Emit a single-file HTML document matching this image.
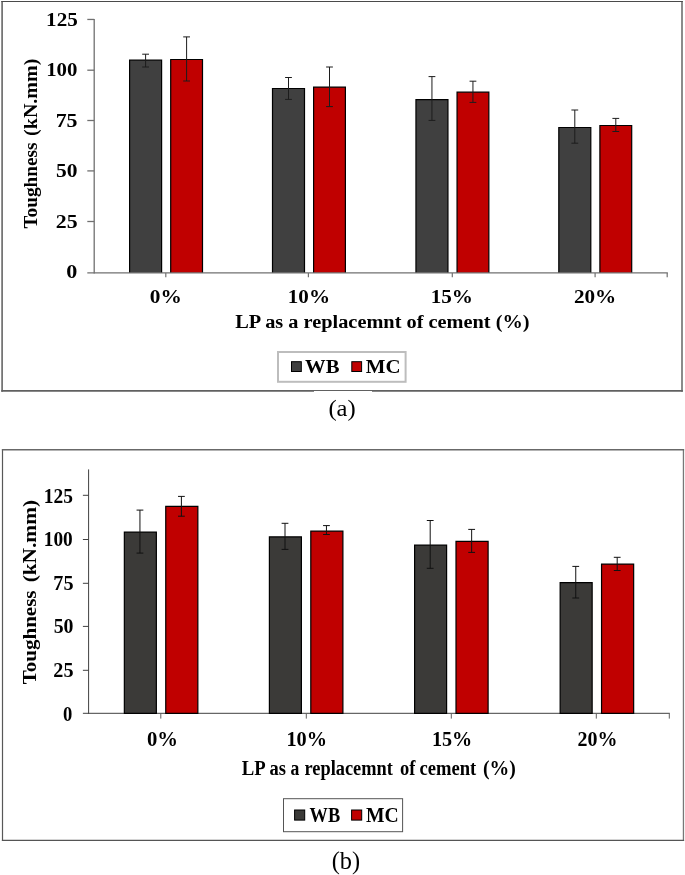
<!DOCTYPE html>
<html><head><meta charset="utf-8"><title>Toughness charts</title>
<style>
html,body{margin:0;padding:0;background:#fff;}
svg{display:block;will-change:transform;font-family:"Liberation Serif",serif;}
</style></head>
<body>
<svg width="685" height="875" viewBox="0 0 685 875">
<rect x="0" y="0" width="685" height="875" fill="#fff"/>
<line x1="2.10" y1="0.90" x2="2.10" y2="391.65" stroke="#666" stroke-width="1.6"/>
<line x1="682.00" y1="0.90" x2="682.00" y2="391.65" stroke="#777" stroke-width="1.7"/>
<line x1="1.30" y1="1.50" x2="682.85" y2="1.50" stroke="#4a4a4a" stroke-width="1.2"/>
<line x1="1.30" y1="390.80" x2="682.85" y2="390.80" stroke="#606060" stroke-width="1.7"/>
<rect x="129.60" y="60.20" width="32.00" height="212.70" fill="#404040"/>
<path d="M129.60,272.90 V60.20 H161.60 V272.90" fill="none" stroke="#000" stroke-width="1.2"/>
<line x1="145.60" y1="54.20" x2="145.60" y2="67.00" stroke="#1c1c1c" stroke-width="1.0"/>
<line x1="142.20" y1="54.20" x2="149.00" y2="54.20" stroke="#1c1c1c" stroke-width="1.0"/>
<line x1="142.20" y1="67.00" x2="149.00" y2="67.00" stroke="#1c1c1c" stroke-width="1.0"/>
<rect x="170.70" y="59.50" width="31.80" height="213.40" fill="#c00000"/>
<path d="M170.70,272.90 V59.50 H202.50 V272.90" fill="none" stroke="#000" stroke-width="1.2"/>
<line x1="186.60" y1="36.90" x2="186.60" y2="81.00" stroke="#1c1c1c" stroke-width="1.0"/>
<line x1="183.20" y1="36.90" x2="190.00" y2="36.90" stroke="#1c1c1c" stroke-width="1.0"/>
<line x1="183.20" y1="81.00" x2="190.00" y2="81.00" stroke="#1c1c1c" stroke-width="1.0"/>
<rect x="272.50" y="88.50" width="32.00" height="184.40" fill="#404040"/>
<path d="M272.50,272.90 V88.50 H304.50 V272.90" fill="none" stroke="#000" stroke-width="1.2"/>
<line x1="288.50" y1="77.50" x2="288.50" y2="99.40" stroke="#1c1c1c" stroke-width="1.0"/>
<line x1="285.10" y1="77.50" x2="291.90" y2="77.50" stroke="#1c1c1c" stroke-width="1.0"/>
<line x1="285.10" y1="99.40" x2="291.90" y2="99.40" stroke="#1c1c1c" stroke-width="1.0"/>
<rect x="313.60" y="87.10" width="31.80" height="185.80" fill="#c00000"/>
<path d="M313.60,272.90 V87.10 H345.40 V272.90" fill="none" stroke="#000" stroke-width="1.2"/>
<line x1="329.50" y1="67.00" x2="329.50" y2="106.60" stroke="#1c1c1c" stroke-width="1.0"/>
<line x1="326.10" y1="67.00" x2="332.90" y2="67.00" stroke="#1c1c1c" stroke-width="1.0"/>
<line x1="326.10" y1="106.60" x2="332.90" y2="106.60" stroke="#1c1c1c" stroke-width="1.0"/>
<rect x="415.95" y="99.70" width="32.00" height="173.20" fill="#404040"/>
<path d="M415.95,272.90 V99.70 H447.95 V272.90" fill="none" stroke="#000" stroke-width="1.2"/>
<line x1="431.95" y1="76.60" x2="431.95" y2="120.40" stroke="#1c1c1c" stroke-width="1.0"/>
<line x1="428.55" y1="76.60" x2="435.35" y2="76.60" stroke="#1c1c1c" stroke-width="1.0"/>
<line x1="428.55" y1="120.40" x2="435.35" y2="120.40" stroke="#1c1c1c" stroke-width="1.0"/>
<rect x="457.05" y="92.20" width="31.80" height="180.70" fill="#c00000"/>
<path d="M457.05,272.90 V92.20 H488.85 V272.90" fill="none" stroke="#000" stroke-width="1.2"/>
<line x1="472.95" y1="81.20" x2="472.95" y2="102.40" stroke="#1c1c1c" stroke-width="1.0"/>
<line x1="469.55" y1="81.20" x2="476.35" y2="81.20" stroke="#1c1c1c" stroke-width="1.0"/>
<line x1="469.55" y1="102.40" x2="476.35" y2="102.40" stroke="#1c1c1c" stroke-width="1.0"/>
<rect x="558.80" y="127.50" width="32.00" height="145.40" fill="#404040"/>
<path d="M558.80,272.90 V127.50 H590.80 V272.90" fill="none" stroke="#000" stroke-width="1.2"/>
<line x1="574.80" y1="110.00" x2="574.80" y2="143.20" stroke="#1c1c1c" stroke-width="1.0"/>
<line x1="571.40" y1="110.00" x2="578.20" y2="110.00" stroke="#1c1c1c" stroke-width="1.0"/>
<line x1="571.40" y1="143.20" x2="578.20" y2="143.20" stroke="#1c1c1c" stroke-width="1.0"/>
<rect x="599.90" y="125.50" width="31.80" height="147.40" fill="#c00000"/>
<path d="M599.90,272.90 V125.50 H631.70 V272.90" fill="none" stroke="#000" stroke-width="1.2"/>
<line x1="615.80" y1="118.40" x2="615.80" y2="131.50" stroke="#1c1c1c" stroke-width="1.0"/>
<line x1="612.40" y1="118.40" x2="619.20" y2="118.40" stroke="#1c1c1c" stroke-width="1.0"/>
<line x1="612.40" y1="131.50" x2="619.20" y2="131.50" stroke="#1c1c1c" stroke-width="1.0"/>
<line x1="94.20" y1="19.00" x2="94.20" y2="273.55" stroke="#707070" stroke-width="1.3"/>
<line x1="87.30" y1="272.90" x2="667.85" y2="272.90" stroke="#707070" stroke-width="1.3"/>
<line x1="87.30" y1="221.50" x2="94.20" y2="221.50" stroke="#707070" stroke-width="1.3"/>
<line x1="87.30" y1="170.90" x2="94.20" y2="170.90" stroke="#707070" stroke-width="1.3"/>
<line x1="87.30" y1="120.50" x2="94.20" y2="120.50" stroke="#707070" stroke-width="1.3"/>
<line x1="87.30" y1="70.20" x2="94.20" y2="70.20" stroke="#707070" stroke-width="1.3"/>
<line x1="87.30" y1="19.45" x2="94.20" y2="19.45" stroke="#707070" stroke-width="1.3"/>
<line x1="165.80" y1="272.90" x2="165.80" y2="277.30" stroke="#707070" stroke-width="1.2"/>
<line x1="308.40" y1="272.90" x2="308.40" y2="277.30" stroke="#707070" stroke-width="1.2"/>
<line x1="452.30" y1="272.90" x2="452.30" y2="277.30" stroke="#707070" stroke-width="1.2"/>
<line x1="595.10" y1="272.90" x2="595.10" y2="277.30" stroke="#707070" stroke-width="1.2"/>
<line x1="667.20" y1="272.90" x2="667.20" y2="277.30" stroke="#707070" stroke-width="1.2"/>
<text transform="translate(46.11,25.85) scale(1.1313,1.0350)" text-anchor="start" font-size="18.67" font-weight="bold" fill="#000">125</text>
<text transform="translate(46.13,76.10) scale(1.1158,1.0350)" text-anchor="start" font-size="18.67" font-weight="bold" fill="#000">100</text>
<text transform="translate(55.64,126.80) scale(1.1748,1.0350)" text-anchor="start" font-size="18.67" font-weight="bold" fill="#000">75</text>
<text transform="translate(56.04,176.90) scale(1.1525,1.0350)" text-anchor="start" font-size="18.67" font-weight="bold" fill="#000">50</text>
<text transform="translate(55.77,227.50) scale(1.1673,1.0350)" text-anchor="start" font-size="18.67" font-weight="bold" fill="#000">25</text>
<text transform="translate(66.37,278.00) scale(1.1847,1.0350)" text-anchor="start" font-size="18.67" font-weight="bold" fill="#000">0</text>
<text transform="translate(149.80,303.00) scale(1.1437,1.0400)" text-anchor="start" font-size="18.67" font-weight="bold" fill="#000">0%</text>
<text transform="translate(287.81,303.00) scale(1.1299,1.0400)" text-anchor="start" font-size="18.67" font-weight="bold" fill="#000">10%</text>
<text transform="translate(430.71,303.00) scale(1.1329,1.0400)" text-anchor="start" font-size="18.67" font-weight="bold" fill="#000">15%</text>
<text transform="translate(573.90,303.00) scale(1.1331,1.0400)" text-anchor="start" font-size="18.67" font-weight="bold" fill="#000">20%</text>
<text transform="translate(235.24,327.80) scale(1.0893,1.0300)" text-anchor="start" font-size="18.67" font-weight="bold" fill="#000">LP as a replacemnt of cement (%)</text>
<text transform="translate(37.40,228.49) rotate(-90) scale(1.0331,1.0400)" text-anchor="start" font-size="18.67" font-weight="bold" fill="#000">Toughness</text>
<text transform="translate(37.40,135.90) rotate(-90) scale(1.0719,1.0400)" text-anchor="start" font-size="18.67" font-weight="bold" fill="#000">(kN.mm)</text>
<rect x="278.0" y="352.0" width="127.60" height="29.80" fill="#fff" stroke="#bdbdbd" stroke-width="2.0"/>
<rect x="291.50" y="361.70" width="9.8" height="9.8" fill="#404040" stroke="#000" stroke-width="1.0"/>
<rect x="351.80" y="361.70" width="9.8" height="9.8" fill="#c00000" stroke="#000" stroke-width="1.0"/>
<text transform="translate(305.09,372.70) scale(1.1075,1.0300)" text-anchor="start" font-size="18.67" font-weight="bold" fill="#000">WB</text>
<text transform="translate(365.83,372.70) scale(1.1172,1.0300)" text-anchor="start" font-size="18.67" font-weight="bold" fill="#000">MC</text>
<text transform="translate(328.39,416.10) scale(1.0269,0.9900)" text-anchor="start" font-size="24" font-weight="normal" fill="#000">(a)</text>
<rect x="314" y="391.0" width="58" height="2" fill="#fff"/>
<line x1="2.50" y1="449.10" x2="2.50" y2="841.02" stroke="#585858" stroke-width="1.2"/>
<line x1="683.45" y1="449.10" x2="683.45" y2="841.02" stroke="#777" stroke-width="1.3"/>
<line x1="1.90" y1="449.75" x2="684.10" y2="449.75" stroke="#686868" stroke-width="1.3"/>
<line x1="1.90" y1="840.40" x2="684.10" y2="840.40" stroke="#555" stroke-width="1.25"/>
<line x1="88.60" y1="469.40" x2="88.60" y2="713.80" stroke="#404040" stroke-width="1.0"/>
<line x1="82.90" y1="713.30" x2="669.80" y2="713.30" stroke="#404040" stroke-width="1.0"/>
<line x1="82.90" y1="670.30" x2="88.60" y2="670.30" stroke="#404040" stroke-width="1.0"/>
<line x1="82.90" y1="626.40" x2="88.60" y2="626.40" stroke="#404040" stroke-width="1.0"/>
<line x1="82.90" y1="583.30" x2="88.60" y2="583.30" stroke="#404040" stroke-width="1.0"/>
<line x1="82.90" y1="539.50" x2="88.60" y2="539.50" stroke="#404040" stroke-width="1.0"/>
<line x1="82.90" y1="495.30" x2="88.60" y2="495.30" stroke="#404040" stroke-width="1.0"/>
<line x1="160.80" y1="713.30" x2="160.80" y2="718.60" stroke="#606060" stroke-width="1.0"/>
<line x1="306.30" y1="713.30" x2="306.30" y2="718.60" stroke="#606060" stroke-width="1.0"/>
<line x1="451.30" y1="713.30" x2="451.30" y2="718.60" stroke="#606060" stroke-width="1.0"/>
<line x1="596.30" y1="713.30" x2="596.30" y2="718.60" stroke="#606060" stroke-width="1.0"/>
<line x1="669.30" y1="713.30" x2="669.30" y2="718.60" stroke="#606060" stroke-width="1.0"/>
<rect x="124.35" y="532.10" width="32.00" height="181.20" fill="#3b3a38"/>
<path d="M124.35,713.30 V532.10 H156.35 V713.30 Z" fill="none" stroke="#000" stroke-width="1.2"/>
<line x1="139.95" y1="510.10" x2="139.95" y2="553.10" stroke="#111" stroke-width="1.0"/>
<line x1="136.55" y1="510.10" x2="143.35" y2="510.10" stroke="#111" stroke-width="1.0"/>
<line x1="136.55" y1="553.10" x2="143.35" y2="553.10" stroke="#111" stroke-width="1.0"/>
<rect x="165.75" y="506.30" width="32.10" height="207.00" fill="#c00000"/>
<path d="M165.75,713.30 V506.30 H197.85 V713.30 Z" fill="none" stroke="#000" stroke-width="1.2"/>
<line x1="181.40" y1="496.40" x2="181.40" y2="516.20" stroke="#111" stroke-width="1.0"/>
<line x1="178.00" y1="496.40" x2="184.80" y2="496.40" stroke="#111" stroke-width="1.0"/>
<line x1="178.00" y1="516.20" x2="184.80" y2="516.20" stroke="#111" stroke-width="1.0"/>
<rect x="269.40" y="536.90" width="32.00" height="176.40" fill="#3b3a38"/>
<path d="M269.40,713.30 V536.90 H301.40 V713.30 Z" fill="none" stroke="#000" stroke-width="1.2"/>
<line x1="285.00" y1="523.30" x2="285.00" y2="549.40" stroke="#111" stroke-width="1.0"/>
<line x1="281.60" y1="523.30" x2="288.40" y2="523.30" stroke="#111" stroke-width="1.0"/>
<line x1="281.60" y1="549.40" x2="288.40" y2="549.40" stroke="#111" stroke-width="1.0"/>
<rect x="310.80" y="531.10" width="32.10" height="182.20" fill="#c00000"/>
<path d="M310.80,713.30 V531.10 H342.90 V713.30 Z" fill="none" stroke="#000" stroke-width="1.2"/>
<line x1="326.45" y1="525.60" x2="326.45" y2="534.50" stroke="#111" stroke-width="1.0"/>
<line x1="323.05" y1="525.60" x2="329.85" y2="525.60" stroke="#111" stroke-width="1.0"/>
<line x1="323.05" y1="534.50" x2="329.85" y2="534.50" stroke="#111" stroke-width="1.0"/>
<rect x="414.60" y="545.10" width="32.00" height="168.20" fill="#3b3a38"/>
<path d="M414.60,713.30 V545.10 H446.60 V713.30 Z" fill="none" stroke="#000" stroke-width="1.2"/>
<line x1="430.20" y1="520.50" x2="430.20" y2="568.30" stroke="#111" stroke-width="1.0"/>
<line x1="426.80" y1="520.50" x2="433.60" y2="520.50" stroke="#111" stroke-width="1.0"/>
<line x1="426.80" y1="568.30" x2="433.60" y2="568.30" stroke="#111" stroke-width="1.0"/>
<rect x="456.00" y="541.40" width="32.10" height="171.90" fill="#c00000"/>
<path d="M456.00,713.30 V541.40 H488.10 V713.30 Z" fill="none" stroke="#000" stroke-width="1.2"/>
<line x1="471.65" y1="529.40" x2="471.65" y2="552.40" stroke="#111" stroke-width="1.0"/>
<line x1="468.25" y1="529.40" x2="475.05" y2="529.40" stroke="#111" stroke-width="1.0"/>
<line x1="468.25" y1="552.40" x2="475.05" y2="552.40" stroke="#111" stroke-width="1.0"/>
<rect x="560.15" y="582.60" width="32.00" height="130.70" fill="#3b3a38"/>
<path d="M560.15,713.30 V582.60 H592.15 V713.30 Z" fill="none" stroke="#000" stroke-width="1.2"/>
<line x1="575.75" y1="566.40" x2="575.75" y2="598.00" stroke="#111" stroke-width="1.0"/>
<line x1="572.35" y1="566.40" x2="579.15" y2="566.40" stroke="#111" stroke-width="1.0"/>
<line x1="572.35" y1="598.00" x2="579.15" y2="598.00" stroke="#111" stroke-width="1.0"/>
<rect x="601.55" y="564.10" width="32.10" height="149.20" fill="#c00000"/>
<path d="M601.55,713.30 V564.10 H633.65 V713.30 Z" fill="none" stroke="#000" stroke-width="1.2"/>
<line x1="617.20" y1="557.30" x2="617.20" y2="570.50" stroke="#111" stroke-width="1.0"/>
<line x1="613.80" y1="557.30" x2="620.60" y2="557.30" stroke="#111" stroke-width="1.0"/>
<line x1="613.80" y1="570.50" x2="620.60" y2="570.50" stroke="#111" stroke-width="1.0"/>
<text transform="translate(43.74,502.70) scale(1.0422,1.1300)" text-anchor="start" font-size="18.67" font-weight="bold" fill="#000">125</text>
<text transform="translate(43.75,546.00) scale(1.0344,1.1300)" text-anchor="start" font-size="18.67" font-weight="bold" fill="#000">100</text>
<text transform="translate(53.34,589.80) scale(1.0831,1.1300)" text-anchor="start" font-size="18.67" font-weight="bold" fill="#000">75</text>
<text transform="translate(53.71,633.10) scale(1.0625,1.1300)" text-anchor="start" font-size="18.67" font-weight="bold" fill="#000">50</text>
<text transform="translate(53.34,676.80) scale(1.0829,1.1300)" text-anchor="start" font-size="18.67" font-weight="bold" fill="#000">25</text>
<text transform="translate(62.90,720.60) scale(0.9956,1.1300)" text-anchor="start" font-size="18.67" font-weight="bold" fill="#000">0</text>
<text transform="translate(146.92,746.20) scale(1.1084,1.1490)" text-anchor="start" font-size="18.67" font-weight="bold" fill="#000">0%</text>
<text transform="translate(286.48,746.20) scale(1.0859,1.1490)" text-anchor="start" font-size="18.67" font-weight="bold" fill="#000">10%</text>
<text transform="translate(431.89,746.20) scale(1.0800,1.1490)" text-anchor="start" font-size="18.67" font-weight="bold" fill="#000">15%</text>
<text transform="translate(577.45,746.20) scale(1.0698,1.1490)" text-anchor="start" font-size="18.67" font-weight="bold" fill="#000">20%</text>
<text transform="translate(241.77,774.90) scale(1.0039,1.1000)" text-anchor="start" font-size="18.67" font-weight="bold" fill="#000">LP</text>
<text transform="translate(269.60,774.90) scale(0.9908,1.1000)" text-anchor="start" font-size="18.67" font-weight="bold" fill="#000">as</text>
<text transform="translate(290.53,774.90) scale(0.9470,1.1000)" text-anchor="start" font-size="18.67" font-weight="bold" fill="#000">a</text>
<text transform="translate(304.50,774.90) scale(0.9827,1.1000)" text-anchor="start" font-size="18.67" font-weight="bold" fill="#000">replacemnt</text>
<text transform="translate(399.91,774.90) scale(0.9914,1.1000)" text-anchor="start" font-size="18.67" font-weight="bold" fill="#000">of</text>
<text transform="translate(419.55,774.90) scale(0.9957,1.1000)" text-anchor="start" font-size="18.67" font-weight="bold" fill="#000">cement</text>
<text transform="translate(483.01,774.90) scale(1.0560,1.1000)" text-anchor="start" font-size="18.67" font-weight="bold" fill="#000">(%)</text>
<text transform="translate(35.70,684.22) rotate(-90) scale(1.1251,0.9750)" text-anchor="start" font-size="18.67" font-weight="bold" fill="#000">Toughness</text>
<text transform="translate(35.70,582.36) rotate(-90) scale(1.1444,0.9750)" text-anchor="start" font-size="18.67" font-weight="bold" fill="#000">(kN.mm)</text>
<rect x="283.5" y="798.7" width="119.10" height="33.00" fill="#fff" stroke="#555" stroke-width="1.0"/>
<rect x="294.60" y="810.00" width="10.1" height="10.1" fill="#3b3a38" stroke="#000" stroke-width="1.0"/>
<rect x="351.60" y="810.00" width="10.1" height="10.1" fill="#c00000" stroke="#000" stroke-width="1.0"/>
<text transform="translate(309.62,822.00) scale(0.9822,1.1650)" text-anchor="start" font-size="18.67" font-weight="bold" fill="#000">WB</text>
<text transform="translate(365.96,822.00) scale(1.0525,1.1650)" text-anchor="start" font-size="18.67" font-weight="bold" fill="#000">MC</text>
<text transform="translate(331.70,868.50) scale(1.0170,1.0100)" text-anchor="start" font-size="24" font-weight="normal" fill="#000">(b)</text>
</svg>
</body></html>
